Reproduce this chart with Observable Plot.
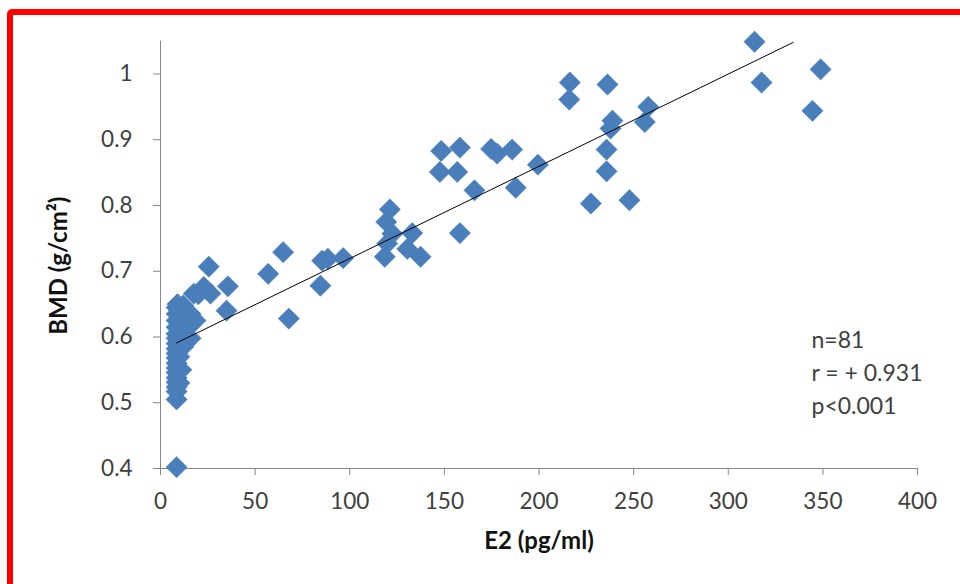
<!DOCTYPE html>
<html><head><meta charset="utf-8">
<script src="https://cdn.jsdelivr.net/npm/d3@7"></script>
<script src="https://cdn.jsdelivr.net/npm/@observablehq/plot@0.6"></script>
<style>
html,body{margin:0;padding:0;background:#fff;}
#wrap{position:relative;width:960px;height:584px;overflow:hidden;}
#wrap svg{position:absolute;left:0;top:0;}
#frame{position:absolute;left:7px;top:9px;width:1000px;height:700px;border:6px solid #ff0000;border-radius:5px;box-sizing:border-box;pointer-events:none;}
</style></head><body><div id="wrap"><div id="frame"></div></div>
<script>
// E2 (pg/ml) values
const e2 = [
  313.9, 317.6, 348.8, 344.5,
  216.3, 216.0, 236.2, 238.8, 237.8, 257.7, 255.9, 235.7, 235.7, 227.4, 247.8,
  199.4, 187.7, 185.8, 174.7, 177.9, 158.2, 148.3, 147.6, 156.8, 165.9, 158.2, 133.0,
  64.8, 56.9, 84.5, 67.8, 85.4, 88.4, 96.5, 121.2, 119.3, 122.5, 119.8, 118.5, 130.4, 137.4,
  8.5, 8.5, 8.5, 8.5, 8.5, 8.5, 8.5, 8.5, 8.5, 8.5, 8.5, 8.5, 8.5, 8.5, 8.5, 8.5, 8.5, 8.5, 8.5,
  10.5, 11.0, 10.0, 11.0, 10.0, 12.0, 10.0,
  15.9, 18.5, 15.9, 13.0, 17.6, 22.9, 26.4, 25.5, 35.6, 34.9, 12.0, 14.0, 20.0, 9.0
];
// BMD (g/cm²) values
const bmd = [
  1.049, 0.987, 1.007, 0.944,
  0.987, 0.961, 0.984, 0.929, 0.917, 0.950, 0.927, 0.885, 0.852, 0.803, 0.808,
  0.862, 0.827, 0.885, 0.886, 0.879, 0.888, 0.883, 0.851, 0.851, 0.823, 0.758, 0.758,
  0.729, 0.696, 0.678, 0.628, 0.716, 0.719, 0.720, 0.794, 0.775, 0.757, 0.742, 0.722, 0.734, 0.722,
  0.645, 0.635, 0.625, 0.615, 0.605, 0.598, 0.590, 0.582, 0.575, 0.568, 0.560, 0.553, 0.546, 0.538, 0.531, 0.524, 0.517, 0.505, 0.402,
  0.620, 0.600, 0.570, 0.550, 0.530, 0.585, 0.640,
  0.635, 0.625, 0.598, 0.610, 0.666, 0.676, 0.666, 0.707, 0.677, 0.640, 0.648, 0.620, 0.665, 0.650
];
// Linear trend line endpoints
const trendX = [8.5, 334.3];
const trendY = [0.591, 1.048];
// Tick values
const xTicks = [0, 50, 100, 150, 200, 250, 300, 350, 400];
const yTicks = [0.4, 0.5, 0.6, 0.7, 0.8, 0.9, 1.0];
const yTickLabels = ["0.4", "0.5", "0.6", "0.7", "0.8", "0.9", "1"];
const xTitle = "E2 (pg/ml)";
const yTitle = "BMD (g/cm²)";
const statsText = ["n=81", "r = + 0.931", "p<0.001"];

const points = e2.map((x, i) => ({x, y: bmd[i]}));
const trend = trendX.map((x, i) => ({x, y: trendY[i]}));

const axisGrey = "#868686";
const textGrey = "#404040";

const chart = Plot.plot({
  width: 960,
  height: 584,
  marginLeft: 160,
  marginRight: 43,
  marginTop: 40.6,
  marginBottom: 116,
  style: {fontFamily: "Lato, 'Open Sans', sans-serif", fontSize: "22px", color: textGrey, background: "transparent", overflow: "visible"},
  x: {domain: [0, 400]},
  y: {domain: [0.4, 1.05]},
  marks: [
    Plot.ruleY([0.4], {stroke: axisGrey, strokeWidth: 1}),
    Plot.ruleX([0], {stroke: axisGrey, strokeWidth: 1}),
    Plot.axisX(xTicks, {tickSize: 7, tickPadding: 18, stroke: axisGrey, fill: textGrey, fontSize: 22.5, label: null}),
    Plot.axisY(yTicks, {tickSize: 7, tickPadding: 21, stroke: axisGrey, fill: textGrey, fontSize: 22.5, label: null,
      tickFormat: (d) => yTickLabels[yTicks.indexOf(d)]}),
    Plot.dot(points, {x: "x", y: "y", symbol: "diamond2", r: 9.6, fill: "#4a7ebb", stroke: "#4a7ebb", strokeWidth: 0.5}),
    Plot.line(trend, {x: "x", y: "y", stroke: "#000", strokeWidth: 1}),
    Plot.text([xTitle], {frameAnchor: "bottom", dy: 80, fontWeight: "bold", fontSize: 24, fill: "#111"}),
    Plot.text([yTitle], {frameAnchor: "left", dx: -101, dy: 80, rotate: -90, fontWeight: "bold", fontSize: 24, fill: "#111"}),
    Plot.text([statsText.join("\n")], {frameAnchor: "top-right", dx: -106, dy: 283, textAnchor: "start", lineAnchor: "top", lineHeight: 1.45, fontSize: 23, fill: textGrey})
  ]
});
document.getElementById("wrap").prepend(chart);
</script>
</body></html>
